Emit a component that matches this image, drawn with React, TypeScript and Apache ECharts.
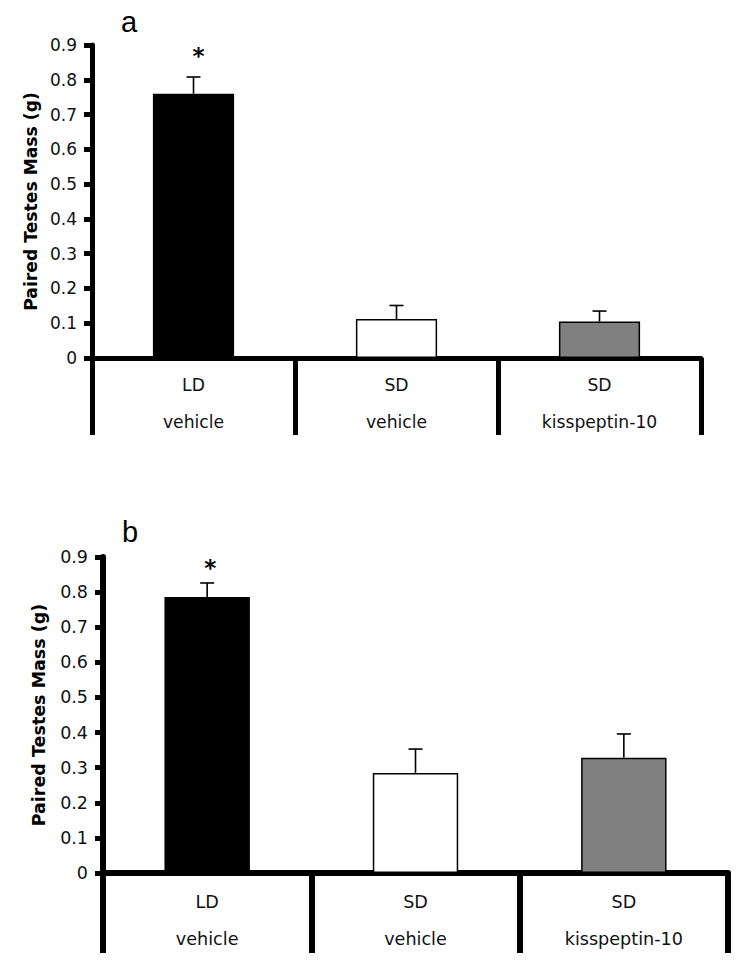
import React, { useEffect, useRef } from "react";
import * as echarts from "echarts";

// ---- data ----
const photoperiod = ["LD", "SD", "SD"];
const treatment = ["vehicle", "vehicle", "kisspeptin-10"];
const barColors = ["#000000", "#ffffff", "#808080"];
const massA = [0.76, 0.112, 0.105];
const semA = [0.048, 0.039, 0.03];
const massB = [0.786, 0.285, 0.328];
const semB = [0.04, 0.068, 0.068];
const significant = [true, false, false];
const panelLetters = ["a", "b"];
const yMin = 0;
const yMax = 0.9;
const yStep = 0.1;
const yTitle = "Paired Testes Mass (g)";

const categories = photoperiod.map((p, i) => p + "\n" + treatment[i]);
const FONT = "DejaVu Sans";

function errorSeries(idx: number, mass: number[], sem: number[], starGap: number, starDx: number, lw: number) {
  return {
    type: "custom",
    xAxisIndex: idx,
    yAxisIndex: idx,
    z: 5,
    data: mass.map((m, i) => [i, m, sem[i], significant[i] ? 1 : 0]),
    renderItem: (params: any, api: any) => {
      const x = api.value(0);
      const v = api.value(1);
      const s = api.value(2);
      const sig = api.value(3);
      const base = api.coord([x, v]);
      const top = api.coord([x, v + s]);
      const children: any[] = [
        {
          type: "line",
          shape: { x1: base[0], y1: base[1], x2: top[0], y2: top[1] },
          style: { stroke: "#000", lineWidth: lw },
        },
        {
          type: "line",
          shape: { x1: top[0] - 7, y1: top[1], x2: top[0] + 7, y2: top[1] },
          style: { stroke: "#000", lineWidth: lw },
        },
      ];
      if (sig) {
        children.push({
          type: "text",
          style: {
            text: "*",
            x: top[0] + starDx,
            y: top[1] - starGap,
            align: "center",
            verticalAlign: "middle",
            fill: "#000",
            font: "bold 23px 'DejaVu Sans'",
          },
        });
      }
      return { type: "group", children };
    },
  };
}

export default function App() {
  const ref = useRef<HTMLDivElement>(null);
  useEffect(() => {
    if (!ref.current) return;
    const chart = echarts.init(ref.current, undefined, { renderer: "svg" });
    const grids = [
      { left: 92, right: 49, top: 45, bottom: 612 },
      { left: 103, right: 22, top: 557, bottom: 97 },
    ];
    const axW = [5, 6];
    const tickSize = [17, 17.5];
    const catSize = [17.2, 17.6];
    const nameSize = [17.2, 17.5];
    const nameGap = [52, 55];
    const catMargin = [8, 10];
    const tickLen = [77, 80];
    const option: any = {
      animation: false,
      backgroundColor: "#fff",
      textStyle: { fontFamily: FONT },
      grid: grids,
      graphic: [
        {
          type: "text",
          x: 129,
          y: 22,
          style: {
            text: panelLetters[0],
            font: "29px 'Liberation Sans'",
            fill: "#000",
            align: "center",
            verticalAlign: "middle",
          },
        },
        {
          type: "text",
          x: 130,
          y: 532,
          style: {
            text: panelLetters[1],
            font: "29px 'Liberation Sans'",
            fill: "#000",
            align: "center",
            verticalAlign: "middle",
          },
        },
      ],
      xAxis: [0, 1].map((i) => ({
        type: "category",
        gridIndex: i,
        data: categories,
        axisLine: { lineStyle: { color: "#000", width: axW[i] } },
        axisTick: { show: true, length: tickLen[i], lineStyle: { color: "#000", width: axW[i] } },
        axisLabel: {
          color: "#111",
          fontSize: catSize[i],
          fontFamily: FONT,
          lineHeight: 37,
          margin: catMargin[i],
          interval: 0,
        },
      })),
      yAxis: [0, 1].map((i) => ({
        type: "value",
        gridIndex: i,
        min: yMin,
        max: yMax,
        interval: yStep,
        name: yTitle,
        nameLocation: "middle",
        nameRotate: 90,
        nameGap: nameGap[i],
        nameTextStyle: { fontFamily: FONT, fontWeight: "bold", fontSize: nameSize[i], color: "#000" },
        splitLine: { show: false },
        axisLine: { show: true, lineStyle: { color: "#000", width: axW[i] } },
        axisTick: { show: true, length: 8, lineStyle: { color: "#000", width: 5 } },
        axisLabel: { color: "#111", fontSize: tickSize[i], fontFamily: FONT, margin: 15 },
      })),
      series: [
        {
          type: "bar",
          xAxisIndex: 0,
          yAxisIndex: 0,
          barWidth: "40%",
          data: massA.map((v, i) => ({
            value: v,
            itemStyle: { color: barColors[i], borderColor: "#000", borderWidth: 1.5 },
          })),
        },
        {
          type: "bar",
          xAxisIndex: 1,
          yAxisIndex: 1,
          barWidth: "41%",
          data: massB.map((v, i) => ({
            value: v,
            itemStyle: { color: barColors[i], borderColor: "#000", borderWidth: 1.5 },
          })),
        },
        errorSeries(0, massA, semA, 21, 5, 1.6),
        errorSeries(1, massB, semB, 15, 3, 1.6),
      ],
    };
    chart.setOption(option);
    return () => chart.dispose();
  }, []);
  return (
    <div
      ref={ref}
      style={{ position: "absolute", left: 0, top: 0, width: 750, height: 970 }}
    />
  );
}
